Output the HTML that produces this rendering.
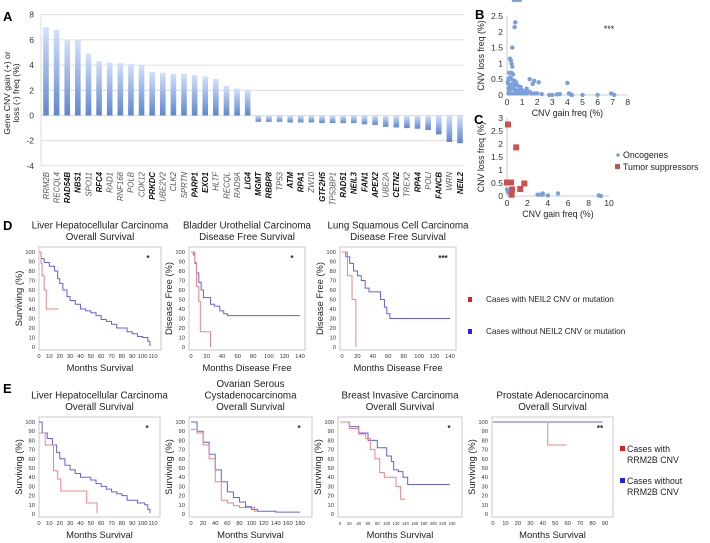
<!DOCTYPE html>
<html><head><meta charset="utf-8"><style>
body{margin:0;background:#fff}
svg{display:block;font-family:"Liberation Sans",Arial,sans-serif}
</style></head><body>
<svg id="fig" width="710" height="543" viewBox="0 0 710 543" xmlns="http://www.w3.org/2000/svg">
<defs>
<linearGradient id="barg" x1="0" y1="0" x2="0" y2="1"><stop offset="0" stop-color="#d3e1fa"/><stop offset="1" stop-color="#5f86d2"/></linearGradient>
</defs>
</svg>
<script>
// ---------- Panel A data ----------
const genes=["RRM2B","RECQL4","RAD54B","NBS1","SPO11","RFC4","RAD1","RNF168","POLB","CDK12","PRKDC","UBE2V2","CLK2","SPRTN","PARP1","EXO1","HLTF","RECQL","RAD9A","LIG4","MGMT","RBBP8","TP53","ATM","RPA1","ZW10","GTF2H5","TP53BP1","RAD51","NEIL3","FAN1","APEX2","UBE2A","CETN2","TREX2","RPA4","POLI","FANCB","WRN","NEIL2"];
const geneFreq=[7,6.8,6,6,4.9,4.3,4.2,4.15,4.1,4.0,3.45,3.4,3.3,3.3,3.2,3.1,2.9,2.35,2.15,2.05,-0.5,-0.5,-0.5,-0.55,-0.55,-0.55,-0.6,-0.6,-0.6,-0.6,-0.7,-0.75,-0.9,-0.95,-1.0,-1.05,-1.15,-1.5,-2.1,-2.2];
const boldGenes=["RAD54B","NBS1","RFC4","PRKDC","PARP1","EXO1","LIG4","MGMT","RBBP8","ATM","RPA1","GTF2H5","RAD51","NEIL3","FAN1","APEX2","CETN2","RPA4","FANCB","NEIL2"];
const aTicks=[8,6,4,2,0,-2,-4];
// ---------- Panel B/C data ----------
const bGain=[0.55,0.5,0.35,0.2,0.25,0.3,0.35,0.15,0.3,0.4,0.1,0.2,0.3,0.5,0.6,0.1,0.2,0.35,0.5,0.7,0.9,0.1,0.25,0.4,0.6,0.8,1.0,1.2,1.5,0.1,0.3,0.5,0.7,0.9,1.1,1.3,1.6,1.8,2.0,2.3,1.5,1.8,2.1,1.7,1.3,0.15,0.05,2.8,3.0,3.3,3.5,4.0,4.1,4.2,4.3,5.0,6.0,6.9,7.1,0.45,0.65,0.85];
const bLoss=[2.3,2.15,1.5,1.15,1.1,1.0,0.9,0.7,0.7,0.65,0.5,0.55,0.5,0.45,0.4,0.35,0.3,0.35,0.3,0.3,0.25,0.2,0.2,0.2,0.15,0.15,0.15,0.1,0.1,0.05,0.05,0.05,0.05,0.05,0.05,0.05,0.05,0.05,0.05,0.03,0.5,0.45,0.4,0.35,0.2,0.1,0.4,0,0,0.02,0.03,0.38,0.05,0.02,0,0,0,0.05,0];
const bXTicks=[0,1,2,3,4,5,6,7,8];
const bYTicks=[0,0.5,1,1.5,2,2.5];
const cOncGain=[0,0.1,3,3.3,3.5,3.5,4,5,9,9.2];
const cOncLoss=[0.25,0.15,0.05,0.05,0.1,0.05,0.02,0.1,0.02,0];
const cTsGain=[0.1,0.9,0,0.4,0.5,0.45,1.3,1.7];
const cTsLoss=[2.75,1.87,0.52,0.52,0.25,0.05,0.27,0.48];
const cXTicks=[0,2,4,6,8,10];
const cYTicks=[0,0.5,1,1.5,2,2.5,3];
// ---------- KM survival data ----------
const d1BlueT=[0,2,5,10,15,18,20,23,27,30,35,40,45,50,55,60,65,70,75,80,85,90,95,100,105,107];
const d1BlueS=[100,93,89,85,80,72,67,60,53,49,45,40,38,36,33,29,27,24,20,20,16,14,11,10,6,1];
const d1RedT=[0,2,3,5,7,19];
const d1RedS=[100,88,75,60,40,40];
const d2BlueT=[0,3,5,7,10,13,16,22,25,30,37,42,47,140];
const d2BlueS=[100,97,88,78,68,60,52,52,45,43,38,35,33,33];
const d2RedT=[0,5,7,10,12,25,25];
const d2RedS=[100,89,64,48,16,16,0];
const d3BlueT=[0,5,10,15,20,25,30,35,45,50,55,58,62,140];
const d3BlueS=[100,95,88,80,75,70,62,58,58,50,42,35,30,30];
const d3RedT=[0,7,13,18];
const d3RedS=[100,75,50,0];
const e1BlueT=[0,3,8,13,17,20,25,30,35,40,50,55,60,65,70,75,80,85,95,102,105,107];
const e1BlueS=[100,88,82,75,67,60,53,48,44,40,37,33,30,27,24,22,20,15,12,10,5,1];
const e1RedT=[0,6,14,18,21,46,56];
const e1RedS=[88,75,47,38,25,12,1];
const e2BlueT=[0,10,20,30,40,50,60,70,80,90,100,110,140,180];
const e2BlueS=[100,90,78,65,48,35,24,18,13,8,5,3,2,2];
const e2RedT=[0,10,20,30,40,50,60,70,80,100,105,110];
const e2RedS=[92,88,75,60,35,15,12,9,7,7,3,2];
const e3BlueT=[0,20,40,60,80,100,110,115,125,135,145,235];
const e3BlueS=[100,95,88,80,72,63,57,48,46,40,32,32];
const e3RedT=[0,20,40,55,65,75,85,95,120,130,140];
const e3RedS=[100,93,87,82,70,60,45,40,30,16,16];
const e4BlueT=[0,88];
const e4BlueS=[100,100];
const e4RedT=[44,44,59];
const e4RedS=[100,75,75];
const kmYTicks=[0,10,20,30,40,50,60,70,80,90,100];

const NS="http://www.w3.org/2000/svg";
const svg=document.getElementById('fig');
function mk(tag,attrs,parent){const e=document.createElementNS(NS,tag);for(const k in attrs)e.setAttribute(k,attrs[k]);(parent||svg).appendChild(e);return e;}
function txt(s,x,y,size,opts,parent){const e=mk('text',Object.assign({x:x,y:y,'font-size':size,fill:'#222'},opts||{}),parent);e.textContent=s;return e;}

// ---------- Panel A ----------
const gA=mk('g',{});


const aY=v=>115.5-v*12.6;
const aX=i=>46+i*(414/(genes.length-1));
aTicks.forEach(t=>{
  const l=mk('line',{x1:41,x2:464,y1:aY(t),y2:aY(t),stroke:'#d6d6d6','stroke-width':0.8},gA);
  
  
  const tl=txt(String(t),34,aY(t)+3,8.5,{'text-anchor':'end',fill:'#333'},gA);
  
  
});
mk('line',{x1:41,x2:41,y1:aY(8),y2:aY(-4),stroke:'#d6d6d6','stroke-width':0.8},gA);
genes.forEach((g,i)=>{
  const v=geneFreq[i];
  const r=mk('rect',{x:aX(i)-2.8,y:Math.min(aY(v),aY(0)),width:5.6,height:Math.abs(aY(v)-aY(0)),fill:'url(#barg)'},gA);
  
  
  const t=txt(g,0,0,7.8,{'text-anchor':'end','font-style':'italic','font-weight':boldGenes.includes(g)?'bold':'normal',fill:boldGenes.includes(g)?'#111':'#555',transform:`translate(${aX(i)+2.8},172) rotate(-90)`},gA);
  
  
});
const at1=txt('Gene CNV gain (+) or',0,0,8.6,{'text-anchor':'middle',transform:'translate(10,93) rotate(-90)'},gA);


const at2=txt('loss (-) freq (%)',0,0,8.6,{'text-anchor':'middle',transform:'translate(19,93) rotate(-90)'},gA);


const la=txt('A',3,21,13,{'font-weight':'bold',fill:'#000'});



// ---------- Scatter helper ----------
function scatter(name,x0,y0,xs,ys,xt,yt,xtitle,ytitleX,label,labelPos){
  const g=mk('g',{});
  
  
  const X=v=>x0+v*xs, Y=v=>y0-v*ys;
  mk('line',{x1:X(0),x2:X(0),y1:Y(yt[yt.length-1]),y2:Y(0),stroke:'#bbb','stroke-width':0.8},g);
  mk('line',{x1:X(0),x2:X(xt[xt.length-1]),y1:Y(0),y2:Y(0),stroke:'#bbb','stroke-width':0.8},g);
  xt.forEach(t=>{const e=txt(String(t),X(t),Y(0)+10,8.6,{'text-anchor':'middle',fill:'#333'},g);
    
    });
  yt.forEach(t=>{const e=txt(String(t),X(0)-4,Y(t)+3,8.6,{'text-anchor':'end',fill:'#333'},g);
    
    });
  const xtl=txt(xtitle,(X(0)+X(xt[xt.length-1]))/2,Y(0)+21,8.8,{'text-anchor':'middle'},g);
  
  
  const ytl=txt('CNV loss freq (%)',0,0,8.8,{'text-anchor':'middle',transform:`translate(${ytitleX},${(Y(0)+Y(yt[yt.length-1]))/2}) rotate(-90)`},g);
  
  
  const pl=txt(label,labelPos[0],labelPos[1],13,{'font-weight':'bold',fill:'#000'},g);
  
  
  return {g,X,Y};
}
const B=scatter('panel-b-scatter',507,95,15.1,31.6,bXTicks,bYTicks,'CNV gain freq (%)',484,'B',[475,19]);
bGain.forEach((v,i)=>{const c=mk('circle',{cx:B.X(v),cy:B.Y(bLoss[i]),r:2.2,fill:'#7b9fd9'},B.g);
  
  });
const st=txt('***',609,32,9,{'text-anchor':'middle'},B.g);


const C=scatter('panel-c-scatter',507,196,10.2,26,cXTicks,cYTicks,'CNV gain freq (%)',484,'C',[474,124]);
cOncGain.forEach((v,i)=>{const c=mk('circle',{cx:C.X(v),cy:C.Y(cOncLoss[i]),r:2.2,fill:'#7b9fd9'},C.g);
  
  });
cTsGain.forEach((v,i)=>{const r=mk('rect',{x:C.X(v)-3,y:C.Y(cTsLoss[i])-3,width:6,height:6,fill:'#c9504f'},C.g);
  
  });
const lg1=mk('circle',{cx:618,cy:155,r:1.8,fill:'#7b9fd9'});


const lt1=txt('Oncogenes',623,158,8.8,{});


const lg2=mk('rect',{x:615,y:164,width:5,height:5,fill:'#c9504f'});


const lt2=txt('Tumor suppressors',623,170,8.8,{});



// ---------- KM helper ----------
function km(name,box,x0,xmaxPx,xmax,xticks,ytitle,xtitle,titles,star,series,tickSize){
  const g=mk('g',{});
  
  
  const [L,T,R,Bt]=box;
  const X=v=>x0+v*(xmaxPx-x0)/xmax;
  const Y=v=>(Bt-3)-v*((Bt-3)-(T+5))/100;
  const bx=mk('rect',{x:L,y:T,width:R-L,height:Bt-T,fill:'#fff',stroke:'#c8c8c8','stroke-width':1},g);
  
  
  kmYTicks.forEach(t=>{const e=txt(String(t),L-4,Y(t)+2,5.8,{'text-anchor':'end',fill:'#333'},g);
    
    });
  xticks.forEach(t=>{const e=txt(String(t),X(t),Bt+8,tickSize||5.8,{'text-anchor':'middle',fill:'#333'},g);
    
    });
  const yt=txt(ytitle,0,0,9.4,{'text-anchor':'middle',transform:`translate(${L-17},${(T+Bt)/2}) rotate(-90)`},g);
  
  
  const xt=txt(xtitle,(L+R)/2,Bt+21,9.4,{'text-anchor':'middle'},g);
  
  
  titles.forEach((s,i)=>{const e=txt(s,(L+R)/2,T-7-(titles.length-1-i)*11.5,9.8,{'text-anchor':'middle'},g);
    
    });
  const s=txt(star,R-13,T+14,8,{'text-anchor':'middle','font-weight':'bold'},g);
  
  
  series.forEach(([ts,ss,col,nm])=>{
    let d='M'+X(ts[0])+','+Y(ss[0]);
    for(let i=1;i<ts.length;i++){d+=' H'+X(ts[i])+' V'+Y(ss[i]);}
    const p=mk('path',{d:d,fill:'none',stroke:col,'stroke-width':1},g);
    
    
  });
}
const BL='#6060ee', RD='#f08484';
km('km-d-liver',[39,247,161,350],39,153,110,[0,10,20,30,40,50,60,70,80,90,100,110],'Surviving (%)','Months Survival',['Liver Hepatocellular Carcinoma','Overall Survival'],'*',[[d1BlueT,d1BlueS,BL,'curve-without-neil2'],[d1RedT,d1RedS,RD,'curve-with-neil2']]);
km('km-d-bladder',[189,247,305,350],191,300,140,[0,20,40,60,80,100,120,140],'Disease Free (%)','Months Disease Free',['Bladder Urothelial Carcinoma','Disease Free Survival'],'*',[[d2BlueT,d2BlueS,BL,'curve-without-neil2'],[d2RedT,d2RedS,RD,'curve-with-neil2']]);
km('km-d-lung',[340,247,456,350],342,450,140,[0,20,40,60,80,100,120,140],'Disease Free (%)','Months Disease Free',['Lung Squamous Cell Carcinoma','Disease Free Survival'],'***',[[d3BlueT,d3BlueS,BL,'curve-without-neil2'],[d3RedT,d3RedS,RD,'curve-with-neil2']]);
km('km-e-liver',[39,417,160,517],39,153,110,[0,10,20,30,40,50,60,70,80,90,100,110],'Surviving (%)','Months Survival',['Liver Hepatocellular Carcinoma','Overall Survival'],'*',[[e1BlueT,e1BlueS,BL,'curve-without-rrm2b'],[e1RedT,e1RedS,RD,'curve-with-rrm2b']]);
km('km-e-ovarian',[189,417,312,517],191,300,180,[0,20,40,60,80,100,120,140,160,180],'Surviving (%)','Months Survival',['Ovarian Serous','Cystadenocarcinoma','Overall Survival'],'*',[[e2BlueT,e2BlueS,BL,'curve-without-rrm2b'],[e2RedT,e2RedS,RD,'curve-with-rrm2b']]);
km('km-e-breast',[338,417,462,517],340,452,240,[0,20,40,60,80,100,120,140,160,180,200,220,240],'Surviving (%)','Months Survival',['Breast Invasive Carcinoma','Overall Survival'],'*',[[e3BlueT,e3BlueS,BL,'curve-without-rrm2b'],[e3RedT,e3RedS,RD,'curve-with-rrm2b']],4.2);
km('km-e-prostate',[492,417,613,517],493,605,90,[0,10,20,30,40,50,60,70,80,90],'Surviving (%)','Months Survival',['Prostate Adenocarcinoma','Overall Survival'],'**',[[e4BlueT,e4BlueS,BL,'curve-without-rrm2b'],[e4RedT,e4RedS,RD,'curve-with-rrm2b']]);

const ld=txt('D',3,230,13,{'font-weight':'bold',fill:'#000'});


const le=txt('E',3,393,13,{'font-weight':'bold',fill:'#000'});



// legends
const dl1=mk('rect',{x:468,y:297,width:4,height:5,fill:'#e02020'});


const dt1=txt('Cases with NEIL2 CNV or mutation',486,302,8.2,{});


const dl2=mk('rect',{x:468,y:329,width:4,height:5,fill:'#2020f0'});


const dt2=txt('Cases without NEIL2 CNV or mutation',486,334,8.2,{});


const el1=mk('rect',{x:620,y:446,width:5,height:5,fill:'#e02020'});


const et1=txt('Cases with',627,452,8.8,{});


const et1b=txt('RRM2B CNV',627,463,8.8,{});


const el2=mk('rect',{x:620,y:478,width:5,height:5,fill:'#2020f0'});


const et2=txt('Cases without',627,484,8.8,{});


const et2b=txt('RRM2B CNV',627,495,8.8,{});


</script>
</body></html>
